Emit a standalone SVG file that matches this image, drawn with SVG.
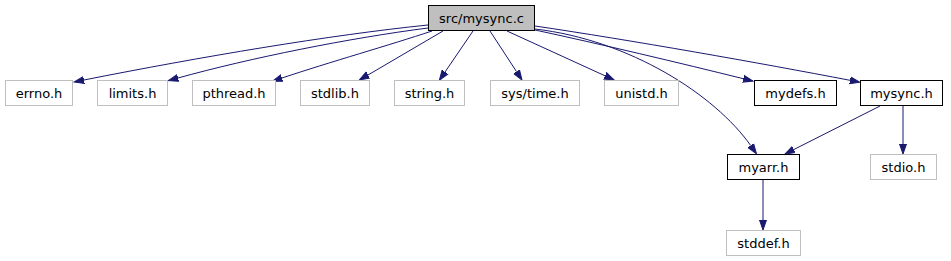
<svg xmlns="http://www.w3.org/2000/svg" width="951" height="261" viewBox="0 0 951 261">
<style>
.n rect{fill:#fff;stroke:#000;stroke-width:1}
.n.root rect{fill:#bfbfbf}
.n.ext rect{stroke:#bfbfbf}
.n text{font-family:"DejaVu Sans",sans-serif;font-size:13px;text-anchor:middle;fill:#000}
.e path{fill:none;stroke:#191970;stroke-width:1;marker-end:url(#ah)}
</style>
<defs>
<marker id="ah" markerUnits="userSpaceOnUse" viewBox="0 -5 11 10" markerWidth="11" markerHeight="10" refX="0" refY="0" orient="auto">
<path d="M0,-3.5 L10,0 L0,3.5 Z" fill="#191970" stroke="#191970" stroke-width="1"/>
</marker>
</defs>
<rect width="951" height="261" fill="#fff"/>
<g id="edges" class="e">
<path d="M428,25 C330,35 200,57 84,80"/>
<path d="M428,28 C350,38 250,58 178,78"/>
<path d="M432,31 C390,45 330,62 282,78"/>
<path d="M443,31 L368,75"/>
<path d="M473,31 L445,72"/>
<path d="M490,31 L516.5,71.6"/>
<path d="M507,31 L605,75.8"/>
<path d="M535,30 C600,44 680,63 743.3,78.7"/>
<path d="M535,26 C630,40 760,63 850,80.3"/>
<path d="M535,29 C630,40 715,95 750.7,145.5"/>
<path d="M880,106 L793.9,149.5"/>
<path d="M903,106 L903,144"/>
<path d="M763,180 L763,220"/>
</g>
<g id="node-root" class="n root"><rect x="428.5" y="5.5" width="106" height="25"/><text x="481.5" y="22.5">src/mysync.c</text></g>
<g id="node-errno" class="n ext"><rect x="5.5" y="80.5" width="67" height="25"/><text x="39" y="97.5">errno.h</text></g>
<g id="node-limits" class="n ext"><rect x="97.5" y="80.5" width="70" height="25"/><text x="132.5" y="97.5">limits.h</text></g>
<g id="node-pthread" class="n ext"><rect x="192.5" y="80.5" width="83" height="25"/><text x="234" y="97.5">pthread.h</text></g>
<g id="node-stdlib" class="n ext"><rect x="300.5" y="80.5" width="69" height="25"/><text x="335" y="97.5">stdlib.h</text></g>
<g id="node-string" class="n ext"><rect x="394.5" y="80.5" width="70" height="25"/><text x="429.5" y="97.5">string.h</text></g>
<g id="node-systime" class="n ext"><rect x="490.5" y="80.5" width="89" height="25"/><text x="535" y="97.5">sys/time.h</text></g>
<g id="node-unistd" class="n ext"><rect x="604.5" y="80.5" width="74" height="25"/><text x="641.5" y="97.5">unistd.h</text></g>
<g id="node-mydefs" class="n"><rect x="754.5" y="80.5" width="82" height="25"/><text x="795.5" y="97.5">mydefs.h</text></g>
<g id="node-mysynch" class="n"><rect x="860.5" y="80.5" width="82" height="25"/><text x="901.5" y="97.5">mysync.h</text></g>
<g id="node-myarr" class="n"><rect x="727.5" y="154.5" width="72" height="25"/><text x="763.5" y="171.5">myarr.h</text></g>
<g id="node-stdio" class="n ext"><rect x="870.5" y="154.5" width="66" height="25"/><text x="903.5" y="171.5">stdio.h</text></g>
<g id="node-stddef" class="n ext"><rect x="726.5" y="230.5" width="74" height="25"/><text x="763.5" y="247.5">stddef.h</text></g>
</svg>
